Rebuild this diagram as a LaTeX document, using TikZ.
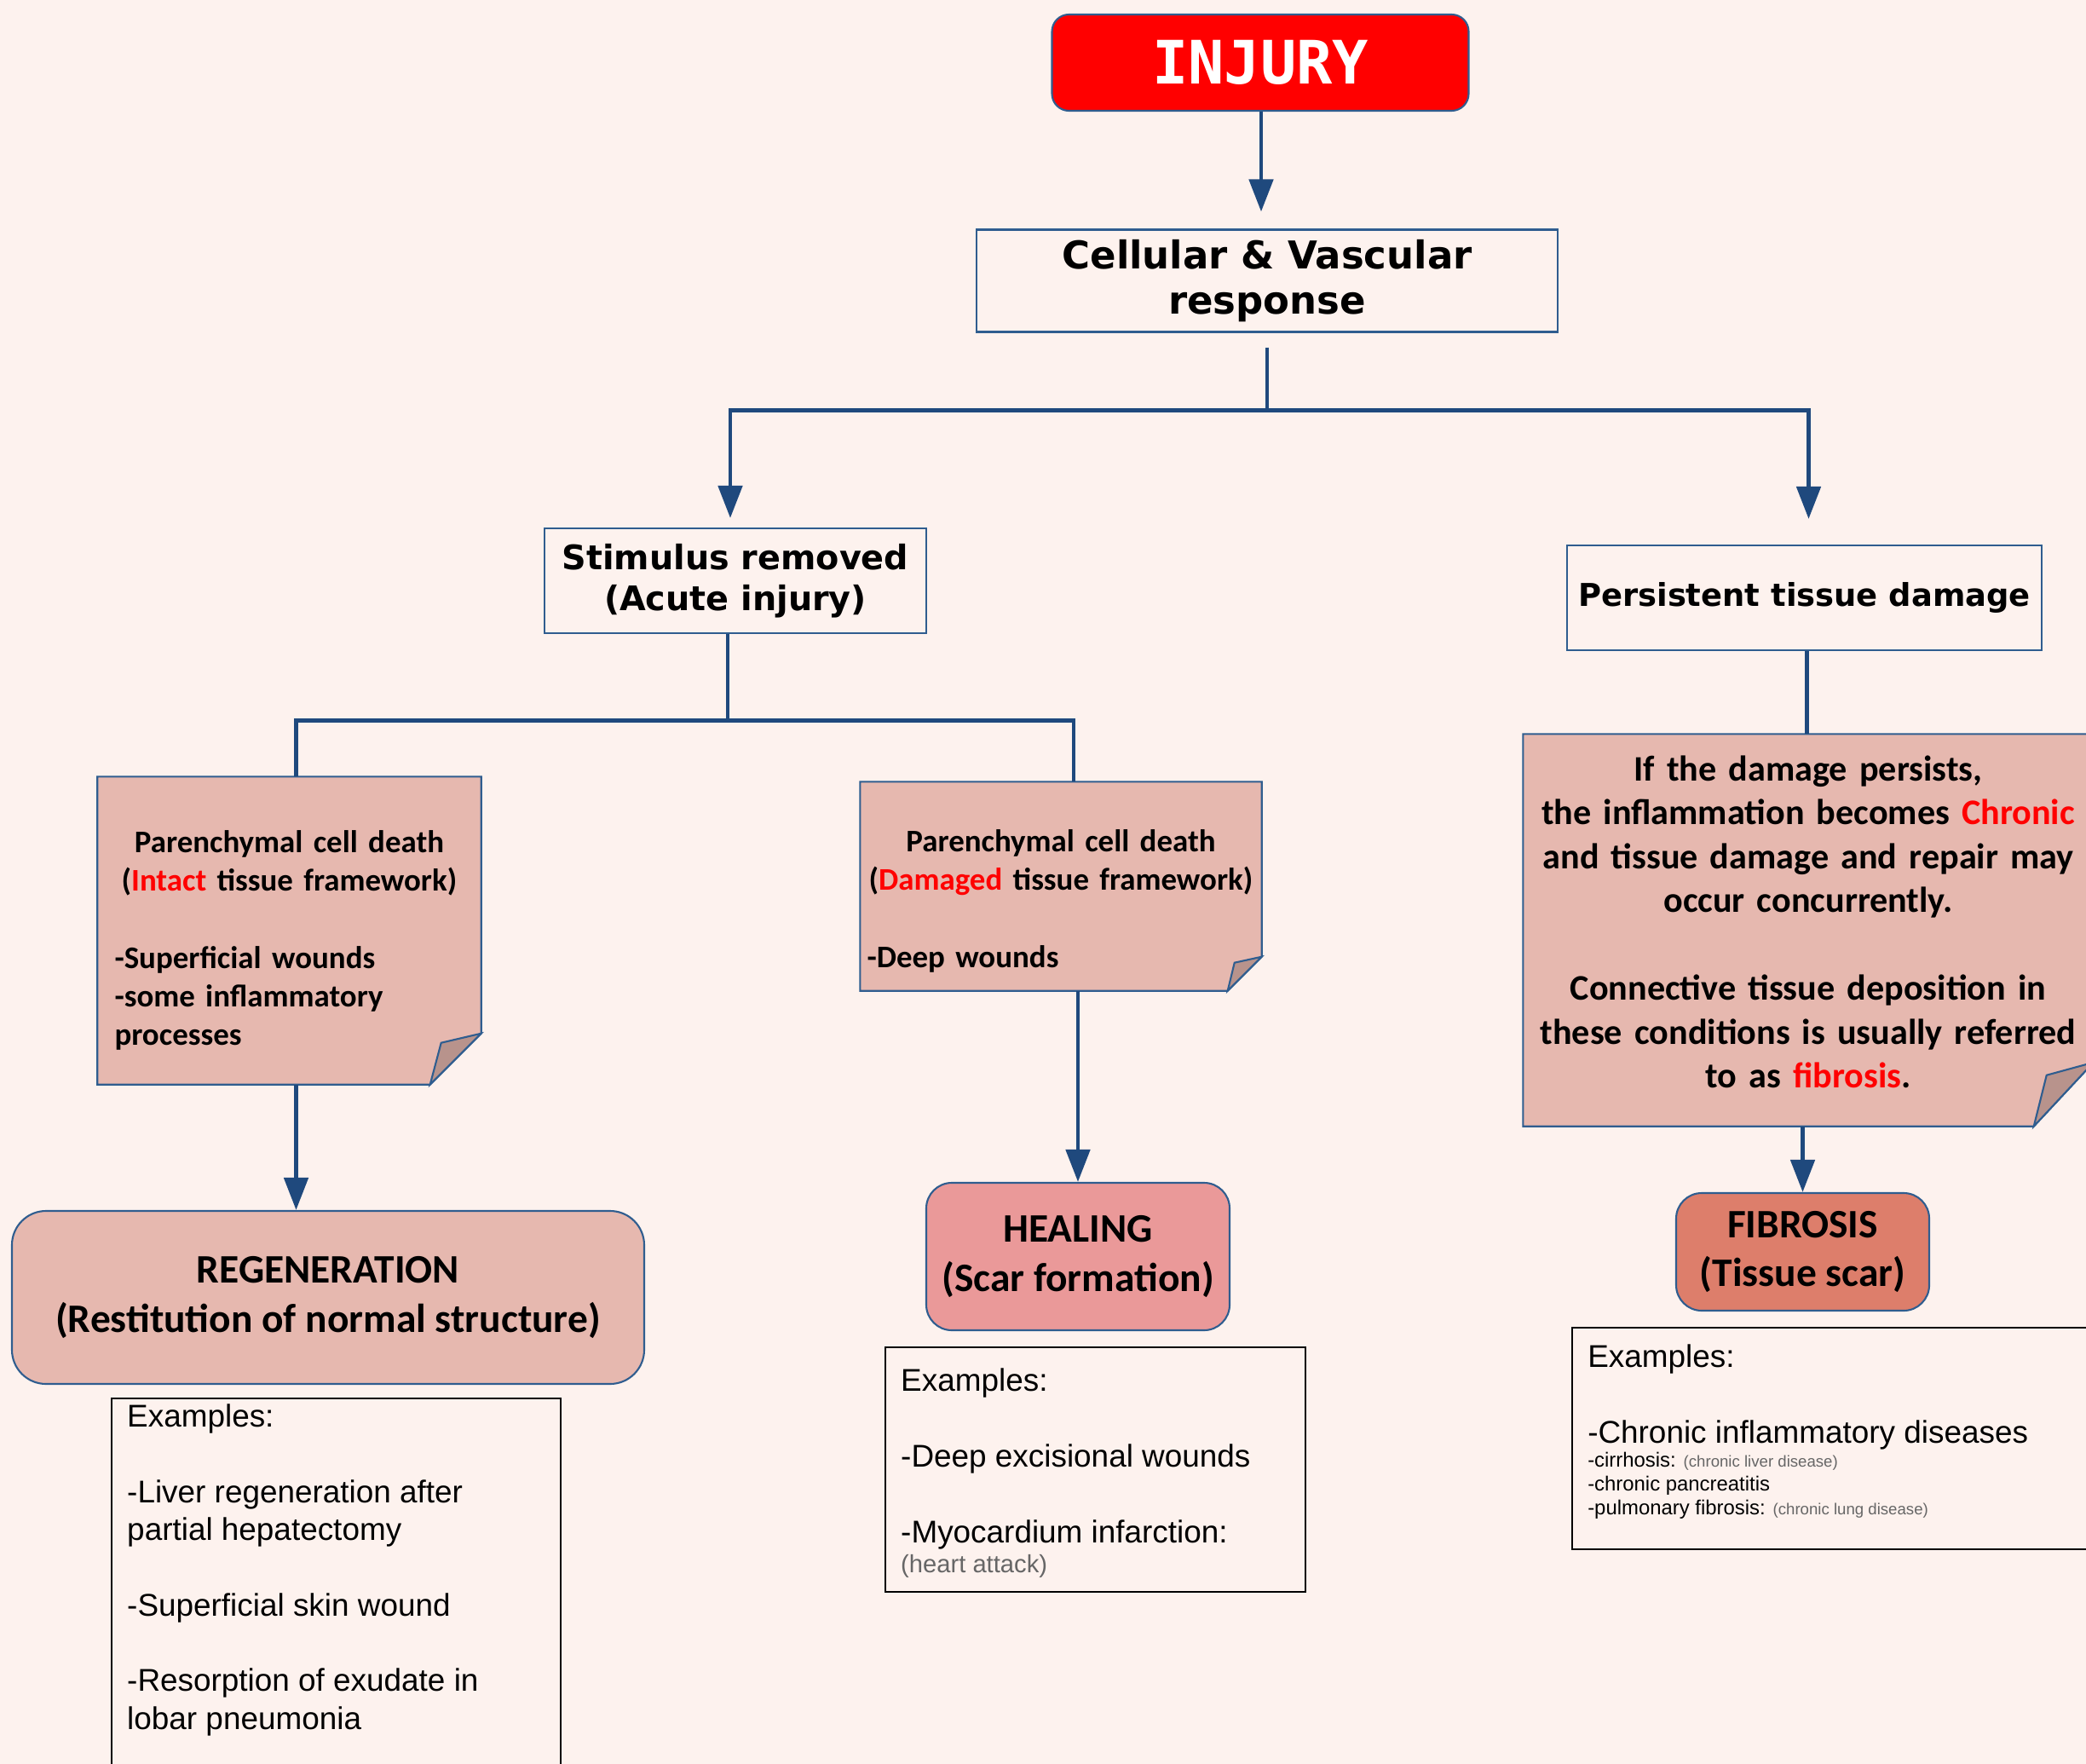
\documentclass[tikz,border=0pt]{standalone}
\usepackage{fontspec}
\usepackage{xcolor}
\usepackage{tikz}
\usetikzlibrary{positioning,shapes,arrows.meta,backgrounds}
\setmainfont{Liberation Sans}
\newfontfamily\carlito{Carlito}
\newfontfamily\dvsans{DejaVu Sans}
\newfontfamily\dvmono{DejaVu Sans Mono}
\definecolor{pagebg}{HTML}{FDF2EE}
\definecolor{lineblue}{HTML}{1F497D}
\definecolor{edgeblue}{HTML}{2F5D8F}
\definecolor{notefill}{HTML}{E6B8AF}
\definecolor{healfill}{HTML}{EA9999}
\definecolor{fibfill}{HTML}{DD7E6B}
\definecolor{foldfill}{HTML}{B8938C}
\definecolor{injred}{HTML}{FF0000}
\definecolor{softgrey}{HTML}{666666}

\begin{document}
\begin{tikzpicture}[%scale=2.5
  link/.style={draw=lineblue, line width=1.4pt},
  arr/.style={link, -{Triangle[length=0.38cm,width=0.28cm]}},
  frame/.style={draw=edgeblue, line width=0.6pt, shape=rectangle, fill=pagebg},
  result/.style={frame, rounded corners=0.3cm, align=center,
    font=\carlito\bfseries\fontsize{13.5}{16.4}\selectfont},
  note/.style={shape=rectangle, inner sep=0pt,
    font=\carlito\bfseries\fontsize{10.5}{12.9}\selectfont},
  notebg/.style={draw=edgeblue, line width=0.6pt, fill=notefill},
  foldbg/.style={draw=edgeblue, line width=0.6pt, fill=foldfill},
  exbox/.style={draw=black, line width=0.7pt, shape=rectangle, anchor=north west,
    inner xsep=0.18cm, fill=pagebg, font=\fontsize{10.5}{12.6}\selectfont}
]
\useasboundingbox (0,0) rectangle (24.48,-20.70);

% top of the tree
\draw node (injury) at (14.79,-0.735) [frame, fill=injred, rounded corners=0.2cm,
  minimum width=4.89cm, minimum height=1.13cm, text=white,
  font=\dvmono\bfseries\fontsize{20}{24}\selectfont]{INJURY};
\draw node (cvr) at (14.87,-3.295) [frame, minimum width=6.82cm, minimum height=1.13cm,
  align=center, font=\dvsans\bfseries\fontsize{12.8}{15.1}\selectfont]{Cellular \& Vascular\\response};
\draw node (stim) at (8.63,-6.815) [frame, minimum width=4.48cm, minimum height=1.23cm,
  align=center, font=\dvsans\bfseries\fontsize{11.3}{13.7}\selectfont]{Stimulus removed\\(Acute injury)};
\draw node (persist) at (21.175,-7.015) [frame, minimum width=5.57cm, minimum height=1.23cm,
  font=\dvsans\bfseries\fontsize{10.5}{12.6}\selectfont]{Persistent tissue damage};

% the three notes
\draw node (pcd1) at (3.395,-10.92) [note, minimum width=4.49cm, minimum height=3.60cm, text width=4.1cm]{%
  {\centering\rule{0pt}{0.49cm}Parenchymal cell death\\(\textcolor{red}{Intact} tissue framework)\par}
  \vspace{12.9pt}
  {\raggedright -Superficial wounds\\-some inflammatory\\processes\par}};
\draw node (pcd2) at (12.45,-10.40) [note, minimum width=4.70cm, minimum height=2.44cm, text width=4.55cm]{%
  {\centering\rule{0pt}{0.61cm}Parenchymal cell death\\(\textcolor{red}{Damaged} tissue framework)\par}
  \vspace{12.9pt}
  {\raggedright -Deep wounds\par}};
\draw node (chron) at (21.22,-10.915) [note, minimum width=6.68cm, minimum height=4.59cm, text width=6.5cm,
  font=\carlito\bfseries\fontsize{12}{14.65}\selectfont]{%
  {\centering If the damage persists,\\the inflammation becomes \textcolor{red}{Chronic}\\and tissue damage and repair may\\occur concurrently.\par}
  \vspace{14.65pt}
  {\centering Connective tissue deposition in\\these conditions is usually referred\\to as \textcolor{red}{fibrosis}.\rule[-0.20cm]{0pt}{0.20cm}\par}};

% outcomes
\draw node (regen) at (3.85,-15.225) [result, fill=notefill, rounded corners=0.4cm,
  minimum width=7.42cm, minimum height=2.03cm]{REGENERATION\\(Restitution of normal structure)};
\draw node (heal) at (12.65,-14.745) [result, fill=healfill,
  minimum width=3.56cm, minimum height=1.73cm]{HEALING\\(Scar formation)};
\draw node (fib) at (21.155,-14.69) [result, fill=fibfill,
  minimum width=2.97cm, minimum height=1.38cm]{FIBROSIS\\(Tissue scar)};

% examples
\draw node (regenex) at (1.30,-16.40) [exbox, inner ysep=0.07cm]{%
  \parbox[t][4.8cm][t]{4.91cm}{\raggedright Examples:\\[12.6pt]
  -Liver regeneration after\\partial hepatectomy\\[12.6pt]
  -Superficial skin wound\\[12.6pt]
  -Resorption of exudate in\\lobar pneumonia}};
\draw node (healex) at (10.38,-15.80) [exbox, inner ysep=0.25cm]{%
  \parbox[t][2.37cm][t]{4.57cm}{\raggedright Examples:\\[12.6pt]
  -Deep excisional wounds\\[12.6pt]
  -Myocardium infarction:\\[-2.5pt]
  {\color{softgrey}\fontsize{8.3}{9.5}\selectfont(heart attack)}}};
\draw node (fibex) at (18.44,-15.57) [exbox, inner ysep=0.2cm]{%
  \parbox[t][2.2cm][t]{5.8cm}{\raggedright Examples:\\[12.6pt]
  -Chronic inflammatory diseases\par
  {\fontsize{6.8}{8}\selectfont
  -cirrhosis: {\color{softgrey}\fontsize{5.3}{8}\selectfont(chronic liver disease)}\\
  -chronic pancreatitis\\
  -pulmonary fibrosis: {\color{softgrey}\fontsize{5.3}{8}\selectfont(chronic lung disease)}\par}}};

% connectors
\coordinate (split1) at ([yshift=-0.91cm]cvr.south);
\coordinate (split2) at ([xshift=-0.09cm,yshift=-1.01cm]stim.south);
\draw[arr] ([xshift=0.01cm]injury.south) -- ([xshift=0.01cm,yshift=0.20cm]injury.south |- cvr.north);
\draw[link] ([yshift=-0.17cm]cvr.south) -- (split1);
\draw[arr] (split1) -| ([xshift=-0.06cm,yshift=0.11cm]stim.north);
\draw[arr] (split1) -| ([xshift=0.05cm,yshift=0.30cm]persist.north);
\draw[link] ([xshift=-0.09cm]stim.south) -- (split2);
\draw[link] (split2) -| ([xshift=0.08cm]pcd1.north);
\draw[link] (split2) -| ([xshift=0.15cm]pcd2.north);
\draw[link] ([xshift=0.03cm]persist.south) -- ([xshift=0.03cm]persist.south |- chron.north);
\draw[arr] ([xshift=0.08cm]pcd1.south) -- ([xshift=0.08cm]pcd1.south |- regen.north);
\draw[arr] (pcd2.south -| heal.north) -- (heal.north);
\draw[arr] (chron.south -| fib.north) -- (fib.north);

\begin{scope}[on background layer]
\fill[pagebg] (0,0) rectangle (24.48,-20.70);
\foreach \n/\fw/\fh/\px/\py in {pcd1/0.60/0.60/-0.47/0.49, pcd2/0.40/0.40/-0.32/0.33, chron/0.70/0.75/-0.55/0.60}{
  \filldraw[notebg] (\n.north west) -- (\n.north east) -- ([yshift=\fh cm]\n.south east)
    -- ([xshift=-\fw cm]\n.south east) -- (\n.south west) -- cycle;
  \filldraw[foldbg] ([yshift=\fh cm]\n.south east) -- ([xshift=\px cm,yshift=\py cm]\n.south east)
    -- ([xshift=-\fw cm]\n.south east) -- cycle;
}
\end{scope}
\end{tikzpicture}
\end{document}
